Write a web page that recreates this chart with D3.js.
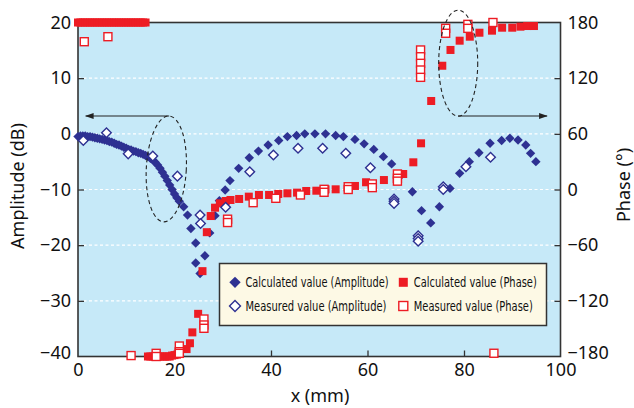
<!DOCTYPE html>
<html>
<head>
<meta charset="utf-8">
<script src="https://cdn.jsdelivr.net/npm/d3@7"></script>
<style>
  body { margin: 0; background: #fff; }
  text { font-family: "Noto Sans", "Open Sans", sans-serif; fill: #111; }
  .legend text { font-family: "Liberation Sans Narrow", "DejaVu Sans Condensed", "Noto Sans", sans-serif; }
</style>
</head>
<body>
<svg id="chart"></svg>
<script>
// ---- data ----
// calculated amplitude (dB), dense part 0..21 mm then the discrete points
var calcAmpX = [0,0.5,1,1.5,2,2.5,3,3.5,4,4.5,5,5.5,6,6.5,7,7.5,8,8.5,9,9.5,10,10.5,11,11.5,12,12.5,13,13.5,14,14.5,15,15.5,16,16.5,17,17.5,18,18.5,19,19.5,20,20.5,21,
  21.9,22.7,23.4,24.4,24.4,25.3,26.3,27.3,28.4,29.3,30.5,31.5,33.3,35.5,37.4,39.4,41.6,43.4,45.3,47.0,49.1,51.3,53.4,55.0,57.4,59.3,61.3,63.3,65.0,67.0,69.3,71.2,73.1,74.9,77.1,79.1,81.1,83.1,85.4,87.8,89.5,91.2,92.8,93.8,94.9];
var calcAmpY = [-0.5,-0.4,-0.4,-0.4,-0.5,-0.5,-0.6,-0.7,-0.8,-0.9,-1.0,-1.1,-1.2,-1.4,-1.5,-1.7,-1.9,-2.0,-2.2,-2.4,-2.6,-2.8,-2.9,-3.1,-3.2,-3.4,-3.5,-3.7,-3.9,-4.1,-4.4,-4.7,-5.1,-5.6,-6.2,-6.9,-7.6,-8.4,-9.2,-10.0,-10.8,-11.5,-12.1,
  -13.1,-14.6,-17.0,-19.6,-23.2,-25.1,-21.9,-17.8,-14.7,-12.0,-10.1,-8.4,-6.2,-4.3,-3.1,-2.0,-1.2,-0.5,-0.3,0,0,0,-0.3,-0.5,-1.0,-1.8,-2.8,-4.1,-5.4,-7.4,-10.4,-13.8,-16.0,-13.1,-9.8,-7.1,-5.0,-3.4,-1.7,-1.2,-0.8,-1.1,-2.0,-3.5,-5.0];

// measured amplitude (dB)
var measAmpX = [1.1,5.9,10.4,15.5,20.6,25.3,25.4,30.6,35.6,40.5,45.6,50.7,55.5,60.6,65.5,65.5,65.5,70.5,70.5,70.5,75.7,75.7,80.4,85.5];
var measAmpY = [-1.2,0.2,-3.6,-4.0,-7.6,-14.6,-16.1,-13.2,-6.8,-3.8,-2.6,-2.6,-3.5,-6.1,-11.7,-12.1,-12.5,-18.3,-18.8,-19.3,-9.5,-10.0,-5.9,-4.2];

// calculated phase (deg)
var calcPhX = [0,0.5,1,1.5,2,2.5,3,3.5,4,4.5,5,5.5,6,6.5,7,7.5,8,8.5,9,9.5,10,10.5,11,11.5,12,12.5,13,13.5,14,
  14.5,15,15.5,16,16.5,17,17.5,18,18.5,19,19.5,20,20.5,21,
  22.5,23.2,23.7,24.9,25.8,26.7,27.5,28.4,29.4,30.6,31.6,33.4,35.4,37.5,39.6,41.5,43.4,45.4,47.3,49.4,51.3,53.4,57.4,59.7,63.4,67.4,69.5,71.1,
  73.2,75.5,77.2,79.1,81.2,83.2,85.8,87.9,90.0,91.7,93.1,94.5];
var calcPhY = [180,180,180,180,180,180,180,180,180,180,180,180,180,180,180,180,180,180,180,180,180,180,180,180,180,180,180,180,180,
  -180,-180,-180,-180,-180,-180,-180,-180,-180,-180,-179,-178.5,-178,-177,
  -172,-165.7,-154,-134,-88,-46,-28.6,-19.6,-14.9,-12.4,-11.3,-10.2,-7.7,-5.9,-5.9,-4.8,-4.1,-3.4,-1.6,-1.3,0.2,0.2,3.8,7.8,10.2,16.7,29.3,49.8,
  95.4,133.4,150.4,160.4,164.7,169,171.2,174.4,174.4,175.5,176.2,176.2];

// measured phase (deg)
var measPhX = [1.3,6.2,11.0,16.2,16.2,21.0,21.0,21.0,26.1,26.1,26.1,31.0,31.0,36.3,41.0,46.1,51.0,51.0,56.0,56.0,61.0,61.0,66.2,66.2,66.2,71.0,71.0,71.0,71.0,71.0,76.2,76.2,80.8,80.8,86.0,86.2];
var measPhY = [159.3,164.7,-179,-176.6,-180,-168.7,-174.8,-176.6,-139.6,-146,-149.6,-32,-35.6,-14.2,-9.5,-5.9,0.2,-3,3,0,6,2,16.7,12.1,9,150.4,143.1,136,128.8,120.9,173.7,168.4,178,173.7,180,-176.5];

var xTicks = [0,20,40,60,80,100];
var ampTicks = [-40,-30,-20,-10,0,10,20];
var phTicks = [-180,-120,-60,0,60,120,180];
var legendLabels = ["Calculated value (Amplitude)", "Measured value (Amplitude)", "Calculated value (Phase)", "Measured value (Phase)"];

// ---- layout ----
var chart_width = 634, chart_height = 408;
var margin = { top: 22.5, right: 73.5, bottom: 51.5, left: 78 };
var width = chart_width - margin.left - margin.right;
var height = chart_height - margin.top - margin.bottom;

var navy = "#2e3192", red = "#ed1c24";

var svg = d3.select("#chart").attr("width", chart_width).attr("height", chart_height);
var g = svg.append("g").attr("transform", "translate(" + margin.left + "," + margin.top + ")");

var x = d3.scaleLinear().domain([0, 100]).range([0, width]);
var yAmp = d3.scaleLinear().domain([-40, 20]).range([height, 0]);
var yPh = d3.scaleLinear().domain([-180, 180]).range([height, 0]);

g.append("rect").attr("width", width).attr("height", height).attr("fill", "#c6e9f8");

// dashed white gridlines
g.append("g").selectAll("line")
  .data(ampTicks.filter(function(d) { return d > -40 && d < 20; }))
  .enter().append("line")
  .attr("x1", 0).attr("x2", width)
  .attr("y1", function(d) { return yAmp(d); }).attr("y2", function(d) { return yAmp(d); })
  .attr("stroke", "#fff").attr("stroke-width", 1.2).attr("stroke-dasharray", "3,2.5");

// axes
function styleAxis(sel) {
  sel.select(".domain").remove();
  sel.selectAll(".tick line").attr("stroke", "#333").attr("stroke-width", 1.3);
  sel.selectAll(".tick text").style("font-size", "18px").attr("fill", "#111");
}
var fmt = function(d) { return d < 0 ? "\u2212" + Math.abs(d) : "" + d; };

g.append("g").attr("transform", "translate(0," + height + ")")
  .call(d3.axisBottom(x).tickValues(xTicks).tickSizeInner(-6).tickSizeOuter(0).tickPadding(7))
  .call(styleAxis)
  .call(function(a) { a.selectAll(".tick").filter(function(d) { return d === 0 || d === 100; }).select("line").remove(); });

g.append("g")
  .call(d3.axisLeft(yAmp).tickValues(ampTicks).tickFormat(fmt).tickSizeInner(-6).tickSizeOuter(0).tickPadding(7))
  .call(styleAxis)
  .call(function(a) {
    a.selectAll(".tick").filter(function(d) { return d === -40 || d === 20; }).select("line").remove();
    a.selectAll(".tick").filter(function(d) { return d === -40; }).select("text").attr("y", -4);
  });

g.append("g").attr("transform", "translate(" + width + ",0)")
  .call(d3.axisRight(yPh).tickValues(phTicks).tickFormat(fmt).tickSizeInner(-6).tickSizeOuter(0).tickPadding(7))
  .call(styleAxis)
  .call(function(a) {
    a.selectAll(".tick").filter(function(d) { return d === -180 || d === 180; }).select("line").remove();
    a.selectAll(".tick").filter(function(d) { return d === -180; }).select("text").attr("y", -4);
  });

// frame
g.append("rect").attr("width", width).attr("height", height)
  .attr("fill", "none").attr("stroke", "#333").attr("stroke-width", 1.6);

// axis titles
svg.append("text").attr("transform", "translate(24," + 186 + ") rotate(-90)")
  .attr("text-anchor", "middle").style("font-size", "18px").text("Amplitude (dB)");
svg.append("text").attr("transform", "translate(630," + 185 + ") rotate(-90)")
  .attr("text-anchor", "middle").style("font-size", "18px").text("Phase (\u00b0)");
svg.append("text").attr("x", 320).attr("y", 402)
  .attr("text-anchor", "middle").style("font-size", "18px").text("x (mm)");

// symbols
function drawDiamonds(xs, ys, filled) {
  g.append("g").selectAll("path")
    .data(xs.map(function(d, i) { return [d, ys[i]]; }))
    .enter().append("path")
    .attr("d", d3.symbol().type(d3.symbolSquare).size(filled ? 44 : 46)())
    .attr("transform", function(d) { return "translate(" + x(d[0]) + "," + yAmp(d[1]) + ") rotate(45)"; })
    .attr("fill", filled ? navy : "#fff")
    .attr("stroke", navy).attr("stroke-width", filled ? 0 : 1.4);
}
function drawSquares(xs, ys, filled) {
  g.append("g").selectAll("rect")
    .data(xs.map(function(d, i) { return [d, ys[i]]; }))
    .enter().append("rect")
    .attr("x", function(d) { return x(d[0]) - 4; })
    .attr("y", function(d) { return yPh(d[1]) - 4; })
    .attr("width", 8).attr("height", 8)
    .attr("fill", filled ? red : "#fff")
    .attr("stroke", red).attr("stroke-width", filled ? 0 : 1.4);
}
drawDiamonds(calcAmpX, calcAmpY, true);
drawSquares(calcPhX, calcPhY, true);
drawDiamonds(measAmpX, measAmpY, false);
drawSquares(measPhX, measPhY, false);

// annotations: dashed ellipses and arrows
var defs = svg.append("defs");
defs.append("marker").attr("id", "arr").attr("viewBox", "0 0 10 10")
  .attr("refX", 9).attr("refY", 5).attr("markerWidth", 8).attr("markerHeight", 8)
  .attr("orient", "auto-start-reverse")
  .append("path").attr("d", "M0,1.5 L10,5 L0,8.5 Z").attr("fill", "#222");

function ellipse(cx, cy, rx, ry, rot) {
  g.append("ellipse")
    .attr("transform", "translate(" + x(cx) + "," + yAmp(cy) + ") rotate(" + rot + ")")
    .attr("rx", rx).attr("ry", ry)
    .attr("fill", "none").attr("stroke", "#222").attr("stroke-width", 1.1).attr("stroke-dasharray", "4,3");
}
ellipse(18.3, -6.3, 20, 53, 3);
ellipse(78.8, 12.7, 19.5, 53, 0);

g.append("line").attr("x1", x(18.9)).attr("x2", x(1.6)).attr("y1", yAmp(3.2)).attr("y2", yAmp(3.2))
  .attr("stroke", "#222").attr("stroke-width", 1.1).attr("marker-end", "url(#arr)");
g.append("line").attr("x1", x(78.8)).attr("x2", x(97.2)).attr("y1", yAmp(3.2)).attr("y2", yAmp(3.2))
  .attr("stroke", "#222").attr("stroke-width", 1.1).attr("marker-end", "url(#arr)");

// legend
var lg = svg.append("g").attr("class", "legend").attr("transform", "translate(219.5,263.5)");
lg.append("rect").attr("width", 327).attr("height", 62)
  .attr("fill", "#fdf9e5").attr("stroke", "#333").attr("stroke-width", 1.5);
var legendPos = [[15.5, 18.8], [15.5, 42.5], [183.8, 18.8], [183.8, 42.5]];
var legendLen = [143, 141, 123, 119];
legendLabels.forEach(function(t, i) {
  var p = legendPos[i];
  if (i < 2) {
    lg.append("path").attr("d", d3.symbol().type(d3.symbolSquare).size(i === 0 ? 64 : 60)())
      .attr("transform", "translate(" + p[0] + "," + p[1] + ") rotate(45)")
      .attr("fill", i === 0 ? navy : "#fff").attr("stroke", navy).attr("stroke-width", i === 0 ? 0 : 1.4);
  } else {
    lg.append("rect").attr("x", p[0] - 4.5).attr("y", p[1] - 4.5).attr("width", 9).attr("height", 9)
      .attr("fill", i === 2 ? red : "#fff").attr("stroke", red).attr("stroke-width", i === 2 ? 0 : 1.4);
  }
  lg.append("text").attr("x", p[0] + 10.5).attr("y", p[1] + 5)
    .attr("textLength", legendLen[i]).attr("lengthAdjust", "spacingAndGlyphs")
    .style("font-size", "13.7px").text(t);
});
</script>
</body>
</html>
